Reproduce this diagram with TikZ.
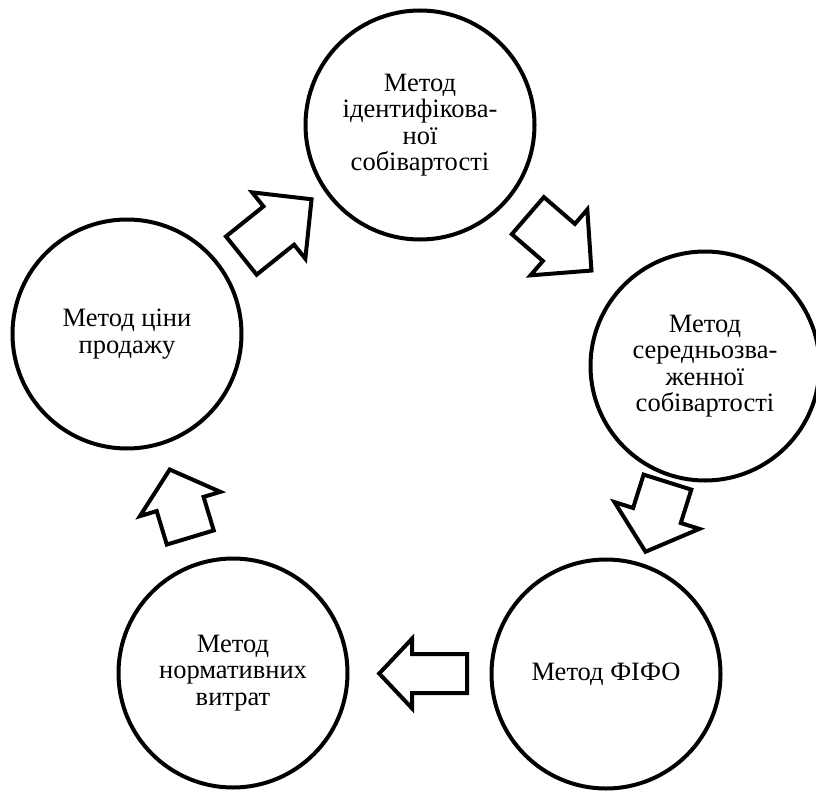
\documentclass[tikz,border=0pt]{standalone}
\usepackage{fontspec}
\setmainfont{Liberation Serif}
\usetikzlibrary{calc}
\newcommand\blockarr[6]{%
  \draw[blockarrow, shift={#1}, rotate=#2]
    (-#3/2,-#4/2) -- (#3/2-#6,-#4/2) -- (#3/2-#6,-#5/2) -- (#3/2,0)
    -- (#3/2-#6,#5/2) -- (#3/2-#6,#4/2) -- (-#3/2,#4/2) -- cycle;}
\begin{document}
\begin{tikzpicture}[x=1pt,y=-1pt,
  method/.style={circle, draw, line width=4pt, minimum size=229pt, inner sep=0pt,
    align=center, font=\fontsize{26.5}{26.5}\selectfont},
  blockarrow/.style={draw, line width=4pt, fill=white, line join=miter}]
\useasboundingbox (0,0) rectangle (816,792);
\node[method] (T)  at (420,125) {Метод\\ідентифікова-\\ної\\собівартості};
\node[method] (R)  at (705,366) {Метод\\середньозва-\\женної\\собівартості};
\node[method] (BR) at (606,674) {Метод ФІФО};
\node[method] (BL) at (233,673) {Метод\\нормативних\\витрат};
\node[method] (L)  at (127,334) {Метод ціни\\продажу};
\blockarr{($(L)!0.51!(T)$)}{38.7}{90}{49}{85}{42}
\blockarr{($(T)!0.49!(R)$)}{-40.8}{84}{49}{87}{43}
\blockarr{($(R)!0.49!(BR)$)}{-107.5}{73}{50}{89}{38}
\blockarr{($(BR)!0.49!(BL)$)}{180}{88}{39}{70}{33}
\blockarr{($(BL)!0.5!(L)$)}{106.8}{71}{49}{84}{36}
\end{tikzpicture}
\end{document}
